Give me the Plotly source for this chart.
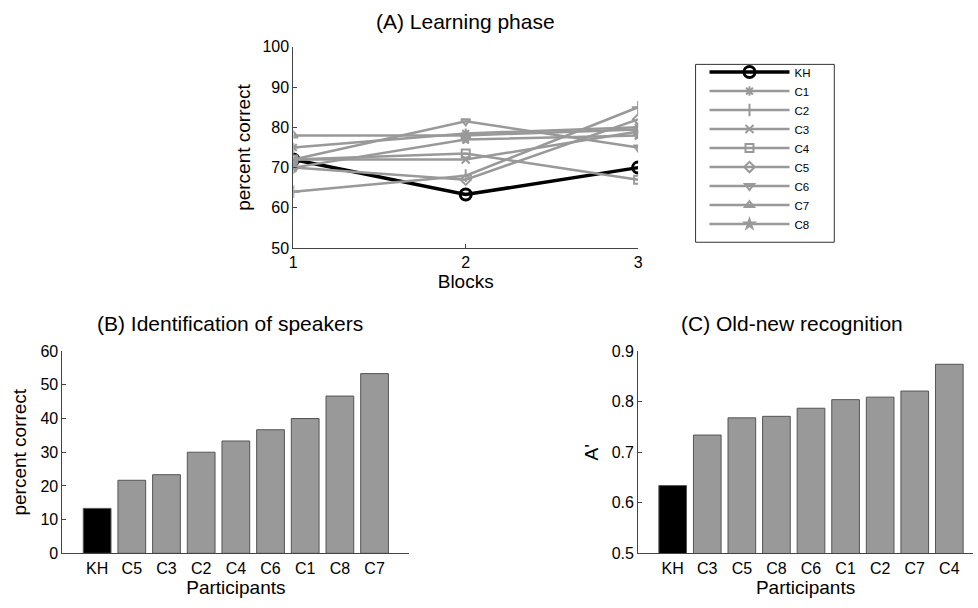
import plotly.graph_objects as go

W, H = 978, 608

# ---- data ----
blocks = [1, 2, 3]
learn_names = ["KH", "C1", "C2", "C3", "C4", "C5", "C6", "C7", "C8"]
learn_KH = [72.0, 63.3, 70.0]
learn_C1 = [75.0, 78.5, 80.0]
learn_C2 = [64.0, 68.0, 85.0]
learn_C3 = [72.0, 72.0, 79.0]
learn_C4 = [72.0, 73.5, 67.0]
learn_C5 = [70.0, 67.0, 82.0]
learn_C6 = [72.0, 81.5, 75.0]
learn_C7 = [78.0, 78.0, 79.5]
learn_C8 = [70.0, 77.0, 78.0]
learn_values = [learn_KH, learn_C1, learn_C2, learn_C3, learn_C4,
                learn_C5, learn_C6, learn_C7, learn_C8]

ident_labels = ["KH", "C5", "C3", "C2", "C4", "C6", "C1", "C8", "C7"]
ident_values = [13.33, 21.67, 23.33, 30.0, 33.33, 36.67, 40.0, 46.67, 53.33]

recog_labels = ["KH", "C3", "C5", "C8", "C6", "C1", "C2", "C7", "C4"]
recog_values = [0.634, 0.734, 0.768, 0.771, 0.787, 0.804, 0.809, 0.821, 0.874]

# ---- styling ----
GRAY = "#999999"
AX = "#444444"
FONT = "Liberation Sans, Arial, sans-serif"
symbols = ["circle-open", "asterisk-open", "cross-thin-open", "x-thin-open",
           "square-open", "diamond-open", "triangle-down-open",
           "triangle-up-open", "star"]
sizes = [11, 8, 9, 8, 8, 8, 8, 8, 7]

def px_x(a, b):
    return [a / W, b / W]

def px_y(top, bottom):
    return [(H - bottom) / H, (H - top) / H]

fig = go.Figure()

# Panel A: lines
for i, (name, vals) in enumerate(zip(learn_names, learn_values)):
    is_kh = name == "KH"
    col = "black" if is_kh else GRAY
    fig.add_trace(go.Scatter(
        x=blocks, y=vals, name=name, mode="lines+markers",
        line=dict(color=col, width=3.5 if is_kh else 2.5),
        marker=dict(symbol=symbols[i], size=sizes[i],
                    color=col, line=dict(color=col, width=3 if is_kh else 2)),
        xaxis="x", yaxis="y", showlegend=True))

# Panel B
fig.add_trace(go.Bar(
    x=list(range(1, len(ident_labels) + 1)), y=ident_values,
    marker=dict(color=["black"] + [GRAY] * (len(ident_labels) - 1),
                line=dict(color="#555555", width=1)),
    width=0.8, xaxis="x2", yaxis="y2", showlegend=False))

# Panel C
fig.add_trace(go.Bar(
    x=list(range(1, len(recog_labels) + 1)), y=recog_values,
    marker=dict(color=["black"] + [GRAY] * (len(recog_labels) - 1),
                line=dict(color="#555555", width=1)),
    width=0.8, xaxis="x3", yaxis="y3", showlegend=False))

tickf = dict(family=FONT, size=16, color="black")
titlef = dict(family=FONT, size=19, color="black")
common = dict(showline=True, linecolor=AX, linewidth=1, ticks="inside",
              ticklen=4, tickcolor=AX, tickfont=tickf, showgrid=False,
              zeroline=False, mirror=False)

fig.update_layout(
    width=W, height=H, paper_bgcolor="white", plot_bgcolor="white",
    margin=dict(l=0, r=0, t=0, b=0),
    font=dict(family=FONT),
    xaxis=dict(domain=px_x(292, 640), range=[1, 3], tickvals=blocks,
               anchor="y", title=dict(text="Blocks", font=titlef, standoff=2),
               **common),
    yaxis=dict(domain=px_y(40, 247), range=[50, 100], dtick=10,
               anchor="x", title=dict(text="percent correct", font=titlef, standoff=6),
               **common),
    xaxis2=dict(domain=px_x(59, 409), range=[0, 10],
                tickvals=list(range(1, 10)), ticktext=ident_labels,
                anchor="y2", title=dict(text="Participants", font=titlef, standoff=0),
                **{**common, "ticks": ""}),
    yaxis2=dict(domain=px_y(353, 561), range=[0, 60], dtick=10,
                anchor="x2", title=dict(text="percent correct", font=titlef, standoff=8),
                **common),
    xaxis3=dict(domain=px_x(640, 978), range=[0, 338 / 34.9],
                tickvals=list(range(1, 10)), ticktext=recog_labels,
                anchor="y3", title=dict(text="Participants", font=titlef, standoff=0),
                **{**common, "ticks": ""}),
    yaxis3=dict(domain=px_y(353, 561), range=[0.5, 0.9], dtick=0.1,
                tickformat=".1f",
                anchor="x3", title=dict(text="A'", font=titlef, standoff=8),
                **common),
    legend=dict(x=707 / W, y=(H - 51) / H, xanchor="left", yanchor="top",
                borderwidth=0, bgcolor="rgba(0,0,0,0)",
                font=dict(family=FONT, size=11.5, color="black"),
                itemwidth=80, tracegroupgap=0),
    shapes=[dict(type="rect", xref="paper", yref="paper",
                 x0=698 / W, x1=838 / W, y0=(H - 241) / H, y1=(H - 58) / H,
                 line=dict(color="#333333", width=1), fillcolor="rgba(0,0,0,0)",
                 layer="below")],
    annotations=[
        dict(text="(A) Learning phase", x=466 / W, y=(H - 14) / H,
             xref="paper", yref="paper", showarrow=False,
             xanchor="center", yanchor="middle",
             font=dict(family=FONT, size=21, color="black")),
        dict(text="(B) Identification of speakers", x=228 / W, y=(H - 325) / H,
             xref="paper", yref="paper", showarrow=False,
             xanchor="center", yanchor="middle",
             font=dict(family=FONT, size=21, color="black")),
        dict(text="(C) Old-new recognition", x=795 / W, y=(H - 325) / H,
             xref="paper", yref="paper", showarrow=False,
             xanchor="center", yanchor="middle",
             font=dict(family=FONT, size=21, color="black")),
    ],
)

fig.write_html(
    "out.html",
    config={"displayModeBar": False},
    post_script="document.body.style.margin='0';document.body.style.padding='0';"
                "document.documentElement.style.overflow='hidden';",
)
